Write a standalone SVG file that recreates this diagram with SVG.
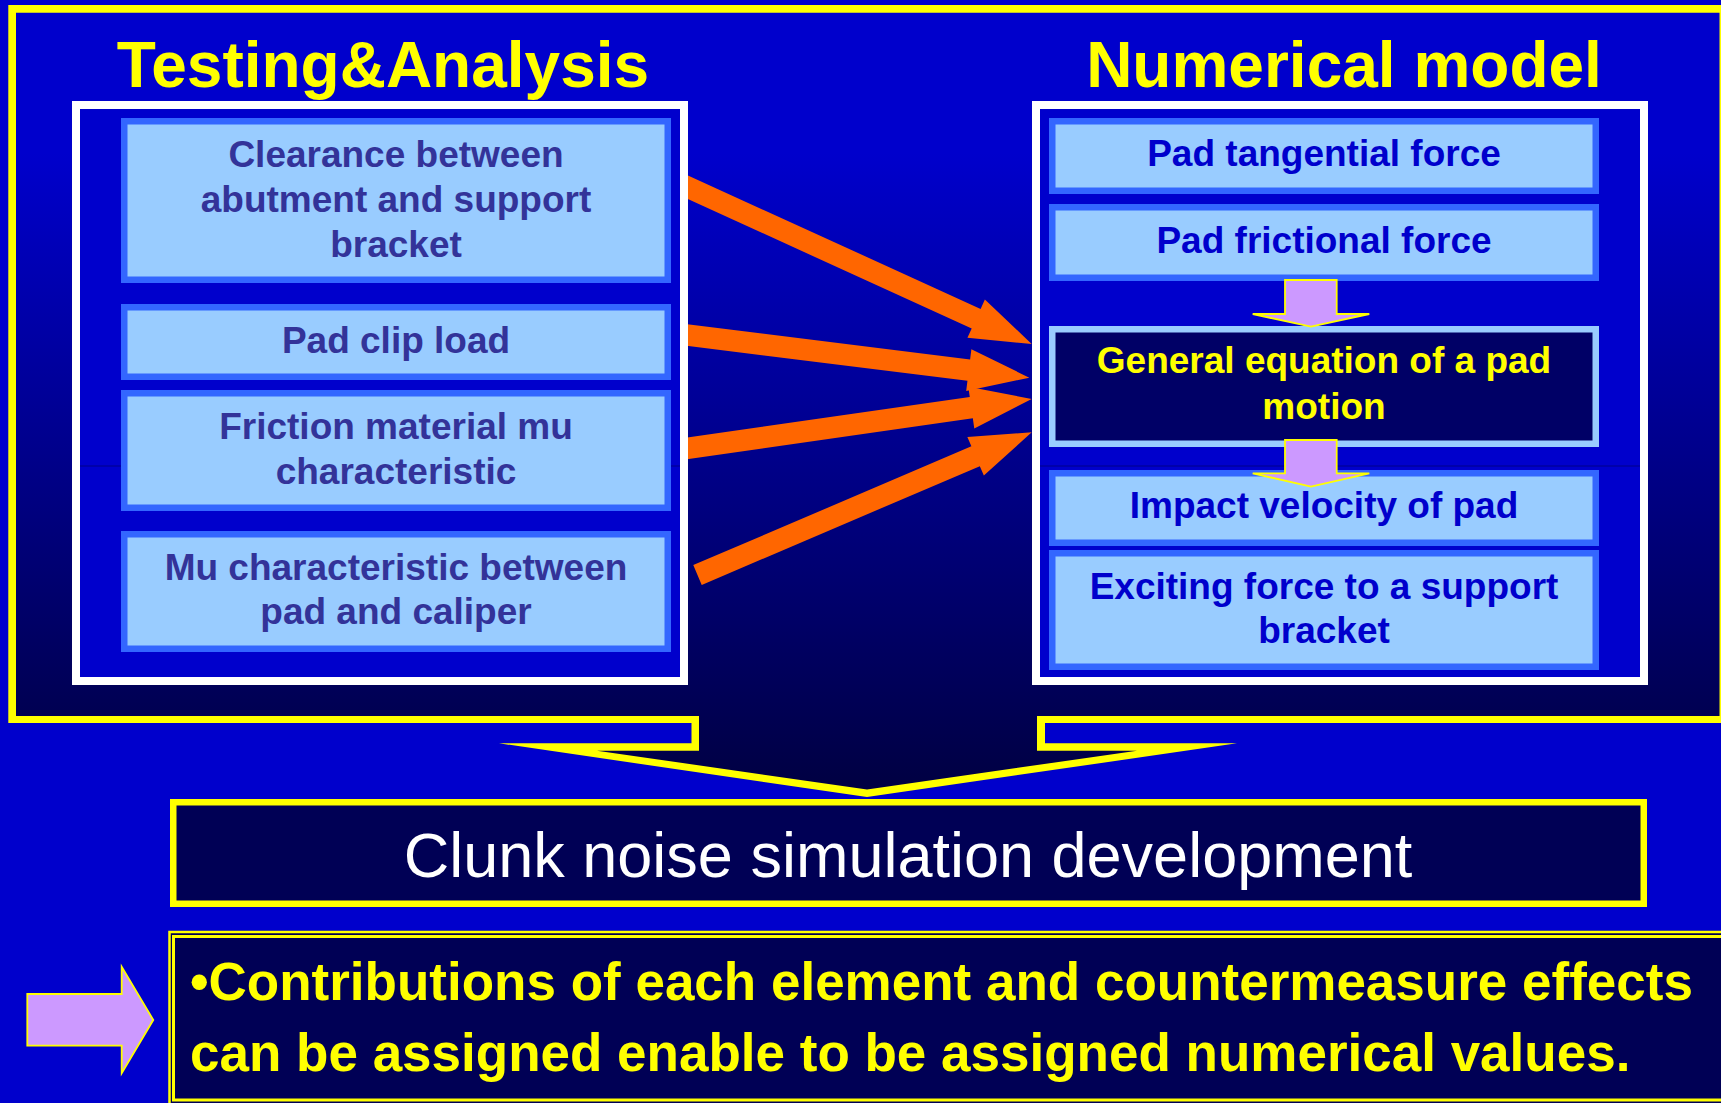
<svg xmlns="http://www.w3.org/2000/svg" width="1721" height="1103" viewBox="0 0 1721 1103">
<defs>
  <linearGradient id="frameGrad" gradientUnits="userSpaceOnUse" x1="0" y1="12" x2="0" y2="797">
    <stop offset="0" stop-color="#0000CC"/>
    <stop offset="0.18" stop-color="#0000CC"/>
    <stop offset="1" stop-color="#000040"/>
  </linearGradient>
  <style>
    .title { font-family: "Liberation Sans", Arial, sans-serif; font-weight: bold; font-size: 64px; fill: #FFFF00; text-anchor: middle; }
    .lt { font-family: "Liberation Sans", Arial, sans-serif; font-weight: bold; font-size: 37px; fill: #333399; text-anchor: middle; }
    .rt { font-family: "Liberation Sans", Arial, sans-serif; font-weight: bold; font-size: 37px; fill: #0000CC; text-anchor: middle; }
    .yt { font-family: "Liberation Sans", Arial, sans-serif; font-weight: bold; font-size: 37px; fill: #FFFF00; text-anchor: middle; }
    .card { fill: #99CCFF; stroke: #3366FF; stroke-width: 6.5; }
    .dcard { fill: #000066; stroke: #99CCFF; stroke-width: 6.5; }
    .wbox { fill: #0000CC; stroke: #FFFFFF; stroke-width: 8; }
    .orange { fill: #FF6600; }
    .purple { fill: #CC99FF; stroke: #FFFF00; stroke-width: 1.8; }
    .seam { stroke: #000088; stroke-width: 1; }
  </style>
</defs>
<rect x="0" y="0" width="1721" height="1103" fill="#0000CC"/>

<g id="frame">
  <polygon fill="#FFFF00" points="8.3,5 1730,5 1730,723 1045,723 1045,743.3 1237,743.3 867,797 499,743.3 691.5,743.3 691.5,723 8.3,723"/>
  <polygon fill="url(#frameGrad)" points="16,12.7 1719.5,12.7 1719.5,716 1037,716 1037,750.7 1137,750.7 867,789.5 597,750.7 699,750.7 699,716 16,716"/>
</g>

<g id="title-testing">
  <text class="title" x="383" y="87">Testing&amp;Analysis</text>
</g>
<g id="title-numerical">
  <text class="title" x="1344" y="87">Numerical model</text>
</g>

<g id="connectors">
  <polygon class="orange" transform="translate(669.8,179) rotate(24.51)" points="0,-10.75 336.7,-10.75 336.7,-21 397.7,0 336.7,21 336.7,10.75 0,10.75"/>
  <polygon class="orange" transform="translate(667.9,332.7) rotate(7.09)" points="0,-10.75 303.2,-10.75 303.2,-21 364.2,0 303.2,21 303.2,10.75 0,10.75"/>
  <polygon class="orange" transform="translate(667.9,451.1) rotate(-8.16)" points="0,-10.75 306.5,-10.75 306.5,-21 367.5,0 306.5,21 306.5,10.75 0,10.75"/>
  <polygon class="orange" transform="translate(697.5,575) rotate(-23.12)" points="0,-10.75 302.4,-10.75 302.4,-21 363.4,0 302.4,21 302.4,10.75 0,10.75"/>
</g>

<g id="testing-box">
  <rect class="wbox" x="76" y="105" width="608" height="576"/>
  <line class="seam" x1="80" y1="466" x2="680" y2="466"/>
</g>
<g id="numerical-box">
  <rect class="wbox" x="1036" y="105" width="608" height="576"/>
  <line class="seam" x1="1040" y1="466" x2="1640" y2="466"/>
</g>

<g id="card-clearance">
  <rect class="card" x="124.25" y="121.25" width="543.5" height="158.5"/>
  <text class="lt" x="396" y="167">Clearance between</text>
  <text class="lt" x="396" y="212">abutment and support</text>
  <text class="lt" x="396" y="257">bracket</text>
</g>
<g id="card-padclip">
  <rect class="card" x="124.25" y="307.25" width="543.5" height="69.5"/>
  <text class="lt" x="396" y="353">Pad clip load</text>
</g>
<g id="card-friction">
  <rect class="card" x="124.25" y="393.25" width="543.5" height="114.5"/>
  <text class="lt" x="396" y="439">Friction material mu</text>
  <text class="lt" x="396" y="483.5">characteristic</text>
</g>
<g id="card-mu">
  <rect class="card" x="124.25" y="534.25" width="543.5" height="114.5"/>
  <text class="lt" x="396" y="580">Mu characteristic between</text>
  <text class="lt" x="396" y="624">pad and caliper</text>
</g>

<g id="card-tangential">
  <rect class="card" x="1052.25" y="121.25" width="543.5" height="69.5"/>
  <text class="rt" x="1324" y="166">Pad tangential force</text>
</g>
<g id="card-frictional">
  <rect class="card" x="1052.25" y="207.25" width="543.5" height="70.5"/>
  <text class="rt" x="1324" y="253">Pad frictional force</text>
</g>
<g id="card-general">
  <rect class="dcard" x="1052.25" y="329.25" width="543.5" height="114.5"/>
  <text class="yt" x="1324" y="372.5">General equation of a pad</text>
  <text class="yt" x="1324" y="419">motion</text>
</g>
<g id="card-impact">
  <rect class="card" x="1052.25" y="473.25" width="543.5" height="69.5"/>
  <text class="rt" x="1324" y="517.5">Impact velocity of pad</text>
</g>
<g id="card-exciting">
  <rect class="card" x="1052.25" y="553.25" width="543.5" height="113.5"/>
  <text class="rt" x="1324" y="598.5">Exciting force to a support</text>
  <text class="rt" x="1324" y="643">bracket</text>
</g>

<g id="flow-arrows">
  <polygon class="purple" points="1285,280 1336.7,280 1336.7,314 1369.3,314 1311,326.7 1252.7,314 1285,314"/>
  <polygon class="purple" points="1285,440 1336.7,440 1336.7,473.3 1369.3,473.3 1311,486.7 1252.7,473.3 1285,473.3"/>
</g>

<g id="clunk-box">
  <rect x="173.25" y="802.25" width="1470.5" height="101.5" fill="#000055" stroke="#FFFF00" stroke-width="6.5"/>
  <text x="908" y="876.5" font-family="Liberation Sans, Arial, sans-serif" font-size="63" fill="#FFFFFF" text-anchor="middle">Clunk noise simulation development</text>
</g>

<g id="result-arrow">
  <polygon class="purple" points="27.3,994 121.7,994 121.7,966.7 153.3,1020 121.7,1073.3 121.7,1045.7 27.3,1045.7"/>
</g>

<g id="result-box">
  <rect x="169.5" y="932" width="1600" height="200" fill="#000055" stroke="#FFFF00" stroke-width="2.5"/>
  <rect x="173.5" y="936.5" width="1600" height="163.5" fill="none" stroke="#FFFF00" stroke-width="3"/>
  <text x="190" y="1000" font-family="Liberation Sans, Arial, sans-serif" font-weight="bold" font-size="53" fill="#FFFF00">•Contributions of each element and countermeasure effects</text>
  <text x="190" y="1071" font-family="Liberation Sans, Arial, sans-serif" font-weight="bold" font-size="53" fill="#FFFF00">can be assigned enable to be assigned numerical values.</text>
</g>
</svg>
